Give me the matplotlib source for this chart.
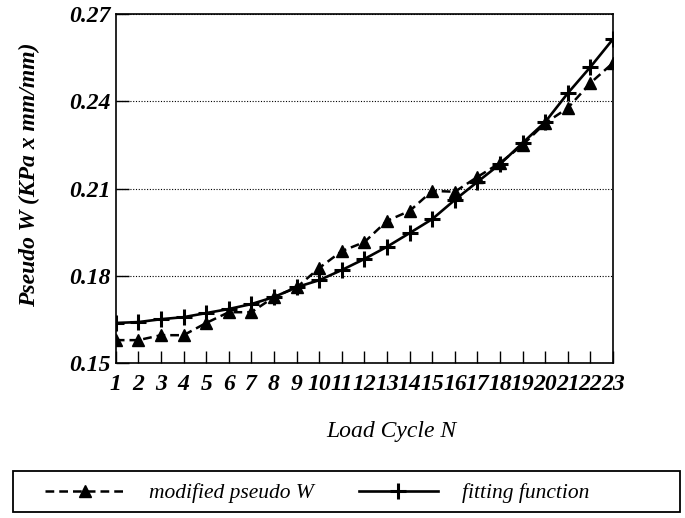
import numpy as np
import matplotlib
matplotlib.use("Agg")
import matplotlib.pyplot as plt
from matplotlib.patches import Rectangle

# load cycles
cycles = list(range(1, 24))
# modified pseudo W (triangles, dashed)
modified_w = [0.1579, 0.1579, 0.1596, 0.1596, 0.1638, 0.1675, 0.1675, 0.1727,
              0.1760, 0.1827, 0.1885, 0.1916, 0.1989, 0.2023, 0.2092, 0.2089,
              0.2140, 0.2188, 0.2250, 0.2325, 0.2377, 0.2463, 0.2532]
# fitting function (plus, solid)
fitting = [0.1638, 0.1641, 0.1651, 0.1658, 0.1672, 0.1686, 0.1703, 0.1727,
           0.1761, 0.1785, 0.1820, 0.1858, 0.1900, 0.1947, 0.1995, 0.2061,
           0.2123, 0.2184, 0.2257, 0.2329, 0.2428, 0.2518, 0.2614]
y_ticks = [0.15, 0.18, 0.21, 0.24, 0.27]
y_labels = ["0.15", "0.18", "0.21", "0.24", "0.27"]

plt.rcParams['font.family'] = ['Liberation Serif', 'DejaVu Serif']

fig = plt.figure(figsize=(6.85, 5.18), dpi=100)
ax = fig.add_axes([0.169, 0.299, 0.726, 0.674])

l1, = ax.plot(cycles, modified_w, 'k--', lw=1.8, marker='^', ms=9,
              dashes=(3.5, 2), label='modified pseudo W')
l2, = ax.plot(cycles, fitting, 'k-', lw=1.9, marker='+', ms=12, mew=2.2,
              label='fitting function')

ax.set_xlim(1, 23)
ax.set_ylim(0.15, 0.27)
ax.set_xticks(cycles)
ax.set_xticklabels([str(c) for c in cycles], fontsize=17, fontweight='bold',
                   style='italic')
ax.set_yticks(y_ticks)
ax.set_yticklabels(y_labels, fontsize=17, fontweight='bold', style='italic')
ax.tick_params(axis='x', direction='in', length=9, width=1, pad=8)
ax.tick_params(axis='y', direction='in', length=9, width=1, pad=4)
ax.grid(axis='y', linestyle=(0, (1, 1.5)), color='k', lw=0.8)

for s in ax.spines.values():
    s.set_linewidth(1.2)

ax.set_xlabel('Load Cycle N', fontsize=17, style='italic')
ax.xaxis.set_label_coords(0.555, -0.166)
ax.set_ylabel('Pseudo W (KPa x mm/mm)', fontsize=17, style='italic',
              fontweight='bold')
ax.yaxis.set_label_coords(-0.153, 0.539)

# legend box
fig.patches.append(Rectangle((0.019, 0.0116), 0.974, 0.079,
                             transform=fig.transFigure, fill=False,
                             edgecolor='k', lw=1.3))
fig.legend(handles=[l1, l2], loc='center left', ncol=2,
           bbox_to_anchor=(0.066, 0.048), borderaxespad=0, borderpad=0,
           prop={'style': 'italic', 'size': 15.5}, frameon=False,
           handlelength=3.7, handletextpad=1.1, columnspacing=2.1)

fig.savefig('out.png', dpi=100)
